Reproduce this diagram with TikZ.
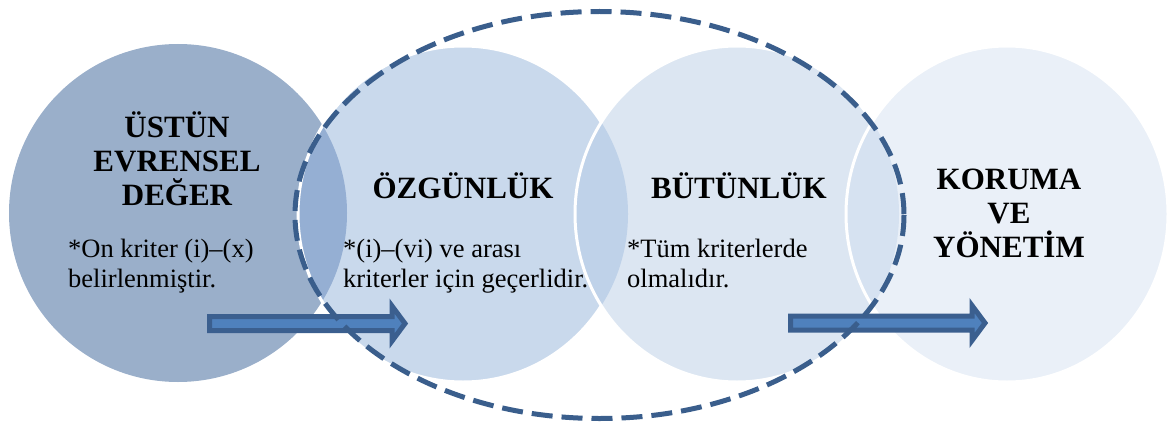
\documentclass[tikz,border=0pt]{standalone}
\usepackage{fontspec}
\setmainfont{Liberation Serif}
\usepackage{tikz}
\usetikzlibrary{positioning}
\definecolor{discA}{RGB}{154,175,202}
\definecolor{discB}{RGB}{201,217,236}
\definecolor{discC}{RGB}{220,230,242}
\definecolor{discD}{RGB}{234,240,248}
\definecolor{lapAB}{RGB}{149,175,211}
\definecolor{lapBC}{RGB}{191,210,233}
\definecolor{lapCD}{RGB}{214,226,241}
\definecolor{arrowfill}{RGB}{79,129,189}
\definecolor{arrowline}{RGB}{59,95,143}
\definecolor{frameblue}{RGB}{58,94,140}

\begin{document}
\begin{tikzpicture}[%
  x=1pt, y=-1pt,
  rim/.style={draw=white, line width=3pt},
  flow/.style={draw=arrowline, fill=arrowfill, line width=5pt, miter limit=10},
  frame/.style={draw=frameblue, line width=5pt, dash pattern=on 21pt off 9pt},
  title/.style={font=\fontsize{31}{34}\selectfont\bfseries, align=center, anchor=base, inner sep=0pt},
  note/.style={font=\fontsize{26.5}{30}\selectfont, align=left, anchor=base west, inner sep=0pt},
]

  \useasboundingbox (0,0) rectangle (1169,425);

  \coordinate (A) at (178,213);
  \coordinate (B) at (463,214);
  \coordinate (C) at (737,214);
  \coordinate (D) at (1007,214);
  \coordinate (M) at (599.5,215);

  % circles
  \fill[discA] (A) circle [radius=169];

  \fill[discB] (B) ellipse [x radius=165, y radius=168];
  \begin{scope}
    \clip (A) circle [radius=169];
    \fill[lapAB] (B) ellipse [x radius=165, y radius=168];
  \end{scope}
  \draw[rim] (B) ellipse [x radius=165, y radius=168];

  \fill[discC] (C) ellipse [x radius=162, y radius=168];
  \begin{scope}
    \clip (B) ellipse [x radius=165, y radius=168];
    \fill[lapBC] (C) ellipse [x radius=162, y radius=168];
  \end{scope}
  \draw[rim] (C) ellipse [x radius=162, y radius=168];

  \fill[discD] (D) ellipse [x radius=161, y radius=168];
  \begin{scope}
    \clip (C) ellipse [x radius=162, y radius=168];
    \fill[lapCD] (D) ellipse [x radius=161, y radius=168];
  \end{scope}
  \draw[rim] (D) ellipse [x radius=161, y radius=168];

  % block arrows
  \coordinate (tailA) at (209.5,323.5);
  \coordinate (tailB) at (790.5,323);
  \draw[flow] (tailA) ++(0,-7) -- ++(182.5,0) -- ++(0,-10.5) -- ++(13,17.5)
    -- ++(-13,17.5) -- ++(0,-10.5) -- ++(-182.5,0) -- cycle;
  \draw[flow] (tailB) ++(0,-7) -- ++(181.5,0) -- ++(0,-10.5) -- ++(13,17.5)
    -- ++(-13,17.5) -- ++(0,-10.5) -- ++(-181.5,0) -- cycle;

  % dashed frame
  \draw[frame] (M) ellipse [x radius=304.5, y radius=203.5];

  % labels (base = last line)
  \node[title] (deger) at (177,205) {ÜSTÜN\\EVRENSEL\\DEĞER};
  \node[title] (ozgun) at (463,198) {ÖZGÜNLÜK};
  \node[title] (butun) at (739,198) {BÜTÜNLÜK};
  \node[title] (koruma) at (1009,257) {KORUMA\\VE\\YÖNETİM};

  \node[note] (notA) at (68,287) {*On kriter (i)–(x)\\belirlenmiştir.};
  \node[note] (notB) at (343,287) {*(i)–(vi) ve arası\\kriterler için geçerlidir.};
  \node[note] (notC) at (627,287) {*Tüm kriterlerde\\olmalıdır.};

\end{tikzpicture}
\end{document}
